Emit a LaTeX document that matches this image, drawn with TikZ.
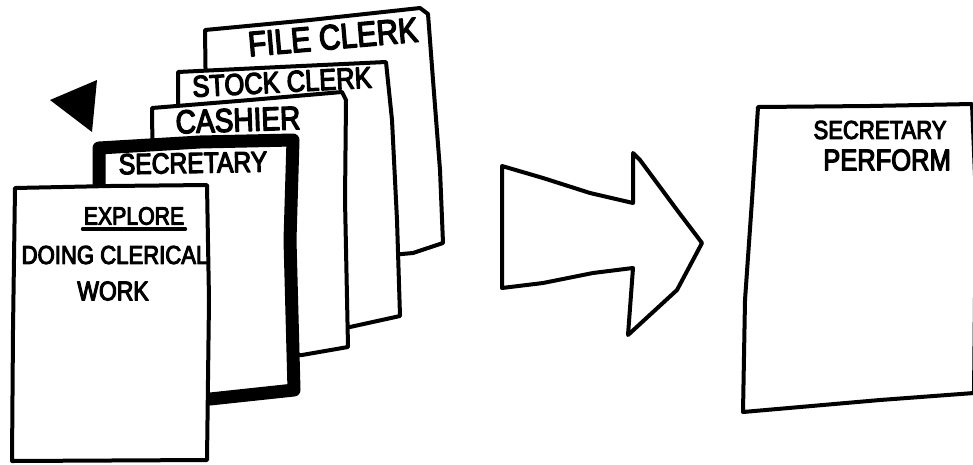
\documentclass[tikz,border=0pt]{standalone}
\usepackage{fontspec}
\newfontfamily\handfont[FakeStretch=0.85,FakeBold=4]{Liberation Sans}

\begin{document}
\begin{tikzpicture}[x=1pt, y=-1pt, line join=round, line cap=round,
            card/.style={draw, fill=white, line width=4pt},
            hand/.style={font=\handfont\fontsize{#1}{#1}\selectfont, inner sep=1pt}]
            \useasboundingbox (0,0) rectangle (973,464);

            % stack of job cards, back to front
            \draw[card] (205,30) -- (310,20) -- (420,8) -- (428,14) -- (433,80) -- (440,170)
                -- (443,243) -- (413,253) -- (380,256) -- (208,258) -- cycle;
            \draw[card] (178,72) -- (280,67) -- (386,62) -- (392,120) -- (397,220)
                -- (400,316) -- (350,327) -- (180,330) -- cycle;
            \draw[card] (152,108) -- (250,100) -- (342,92) -- (346,100) -- (345,200)
                -- (348,347) -- (302,355) -- (155,360) -- cycle;
            \draw[card, line width=13pt] (99,148) -- (200,142) -- (293,140) -- (290,240)
                -- (294,390) -- (210,399) -- (99,400) -- cycle;
            \draw[card] (15,188) -- (110,186) -- (207,185) -- (209,300) -- (207,460)
                -- (12,461) -- (13,330) -- cycle;

            \fill (50,100) -- (97,80) -- (92,132) -- cycle;

            \node[hand=35, rotate=5] (fileclerk)  at (333,37)  {FILE CLERK};
            \node[hand=30, rotate=3] (stockclerk) at (282,82)  {STOCK CLERK};
            \node[hand=33, rotate=2] (cashier)    at (238,120) {CASHIER};
            \node[hand=29, rotate=1] (secretary)  at (193,163) {SECRETARY};
            \node[hand=25]           (explore)    at (134,216) {EXPLORE};
            \node[hand=26]           (doing)      at (115,255) {DOING CLERICAL};
            \node[hand=27]           (work)       at (113,291) {WORK};
            \draw[line width=3.5pt] ([yshift=-3pt]explore.south west) -- ([yshift=-3pt]explore.south east);

            % big arrow
            \draw[line width=4pt] (502,166) -- (543,178) -- (590,193) -- (633,203) -- (633,153)
                -- (640,160) -- (677,210) -- (702,243) -- (677,290) -- (628,335) -- (633,268)
                -- (593,273) -- (543,283) -- (502,288) -- cycle;

            % result card
            \draw[card] (758,107) -- (870,106) -- (972,104) -- (976,200) -- (974,393)
                -- (880,400) -- (743,412) -- (745,300) -- (752,200) -- cycle;
            \node[hand=26] (result)  at (880,130) {SECRETARY};
            \node[hand=30] (perform) at (887,160) {PERFORM};
        \end{tikzpicture}
\end{document}
